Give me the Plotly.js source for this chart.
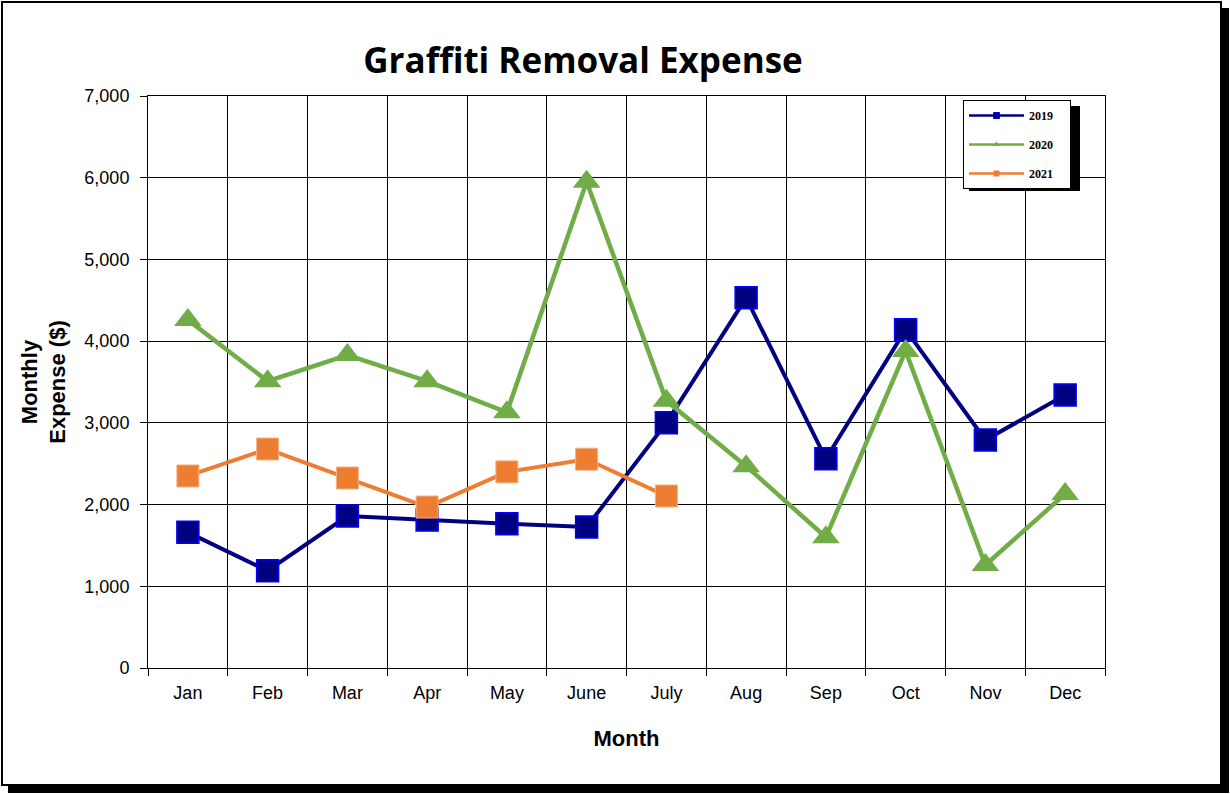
<!DOCTYPE html>
<html>
<head>
<meta charset="utf-8">
<script src="https://cdn.plot.ly/plotly-3.0.1.min.js"></script>
<style>
  html, body { margin: 0; padding: 0; background: #fff; width: 1230px; height: 794px; overflow: hidden; }
  #frame { position: absolute; left: 1px; top: 1px; width: 1217px; height: 781px; border: 2px solid #000; box-shadow: 7px 7px 0 #000; background: #fff; }
  #chart { position: absolute; left: 0; top: 0; width: 1230px; height: 794px; }
</style>
</head>
<body>
<div id="frame"></div>
<div id="chart"></div>
<script>
const months = ["Jan", "Feb", "Mar", "Apr", "May", "June", "July", "Aug", "Sep", "Oct", "Nov", "Dec"];
const y2019 = [1660, 1190, 1860, 1810, 1765, 1725, 3000, 4530, 2560, 4140, 2790, 3340];
const y2020 = [4260, 3510, 3830, 3510, 3130, 5950, 3270, 2470, 1600, 3880, 1260, 2130];
const months2021 = ["Jan", "Feb", "Mar", "Apr", "May", "June", "July"];
const y2021 = [2350, 2680, 2325, 1970, 2400, 2555, 2105];
const seriesNames = ["2019", "2020", "2021"];

// pixel geometry helpers
const W = 1230, H = 794, L = 148, R = 1105, T = 96, B = 668;
const px = x => (x - L) / (R - L);
const py = y => (B - y) / (B - T);
const pad = "\u00A0\u00A0\u00A0\u00A0";

const main = [
  { x: months, y: y2019, name: seriesNames[0], type: "scatter", mode: "lines+markers", showlegend: false,
    line: { color: "#000080", width: 4 },
    marker: { symbol: "square", size: 22, color: "#000080", line: { color: "#0000FF", width: 1.5 } } },
  { x: months, y: y2020, name: seriesNames[1], type: "scatter", mode: "lines+markers", showlegend: false,
    line: { color: "#70AD47", width: 4.5 },
    marker: { symbol: "triangle-up", size: 24, color: "#70AD47" } },
  { x: months2021, y: y2021, name: seriesNames[2], type: "scatter", mode: "lines+markers", showlegend: false,
    line: { color: "#ED7D31", width: 4 },
    marker: { symbol: "square", size: 22, color: "#ED7D31", line: { color: "#F4B183", width: 1 } } }
];
// legend-only entries with small markers
const legendTraces = [
  { x: [null], y: [null], name: seriesNames[0] + pad, mode: "lines+markers", legendgroup: "a",
    line: { color: "#000080", width: 2.5 }, marker: { symbol: "square", size: 6, color: "#000080", line: { color: "#0000FF", width: 1 } } },
  { x: [null], y: [null], name: seriesNames[1] + pad, mode: "lines+markers", legendgroup: "b",
    line: { color: "#70AD47", width: 2.5 }, marker: { symbol: "triangle-up", size: 6, color: "#70AD47" } },
  { x: [null], y: [null], name: seriesNames[2] + pad, mode: "lines+markers", legendgroup: "c",
    line: { color: "#ED7D31", width: 2.5 }, marker: { symbol: "square", size: 6, color: "#ED7D31" } }
];

const layout = {
  width: W, height: H,
  margin: { l: L, r: W - R, t: T, b: H - B, pad: 0 },
  paper_bgcolor: "rgba(0,0,0,0)",
  plot_bgcolor: "#fff",
  title: { text: "<b>Graffiti Removal Expense</b>", font: { family: "Open Sans, Lato, sans-serif", size: 35, color: "#000" },
    x: 583 / W, xanchor: "center", y: 1 - 61 / H, yanchor: "middle" },
  xaxis: {
    type: "category", categoryorder: "array", categoryarray: months,
    tickson: "boundaries", ticks: "outside", ticklen: 7, tickcolor: "#000", tickwidth: 1,
    ticklabelstandoff: 8,
    showgrid: true, gridcolor: "#000", gridwidth: 1,
    showline: true, linecolor: "#000", linewidth: 1, mirror: true,
    tickfont: { family: "Liberation Sans, Arial, sans-serif", size: 18, color: "#000" },
    title: { text: "<b>Month</b>", font: { family: "Liberation Sans, Arial, sans-serif", size: 22, color: "#000" }, standoff: 29 },
    range: [-0.5, 11.5], fixedrange: true
  },
  yaxis: {
    range: [0, 7000], dtick: 1000, tickformat: ",",
    ticks: "outside", ticklen: 7, tickcolor: "#000", tickwidth: 1,
    ticklabelstandoff: 7,
    showgrid: true, gridcolor: "#000", gridwidth: 1,
    showline: true, linecolor: "#000", linewidth: 1, mirror: true, zeroline: false,
    tickfont: { family: "Liberation Sans, Arial, sans-serif", size: 18, color: "#000" },
    title: { text: "<b>Monthly<br>Expense ($)</b>", font: { family: "Liberation Sans, Arial, sans-serif", size: 22, color: "#000" }, standoff: 12 }
  },
  legend: {
    x: px(963), y: py(100), xanchor: "left", yanchor: "top",
    bgcolor: "#fff", bordercolor: "#000", borderwidth: 1,
    font: { family: "Liberation Serif, Times New Roman, serif", size: 12, color: "#000", weight: "bold" },
    tracegroupgap: 10, traceorder: "grouped", itemwidth: 55
  },
  shapes: [
    { type: "rect", xref: "paper", yref: "paper", layer: "above",
      x0: px(969), x1: px(1080), y0: py(106), y1: py(191), fillcolor: "#000", line: { width: 0 } }
  ]
};

Plotly.newPlot("chart", main.concat(legendTraces), layout, { displayModeBar: false, staticPlot: true });
</script>
</body>
</html>
